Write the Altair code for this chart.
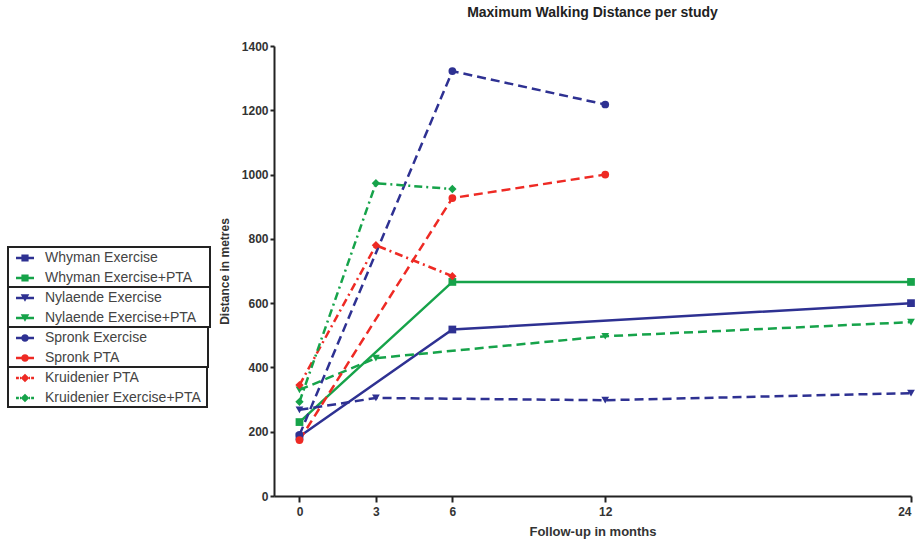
import altair as alt
import pandas as pd

# ---- data ----
months = [0, 3, 6, 12, 24]
whyman_exercise = [185, None, 518, None, 600]
whyman_exercise_pta = [230, None, 666, None, 666]
nylaende_exercise = [268, 305, None, 298, 320]
nylaende_exercise_pta = [330, 429, None, 497, 541]
spronk_exercise = [190, None, 1322, 1218, None]
spronk_pta = [174, None, 927, 1000, None]
kruidenier_pta = [345, 780, 684, None, None]
kruidenier_exercise_pta = [293, 973, 955, None, None]

x_ticks = [0, 3, 6, 12, 24]
y_ticks = [0, 200, 400, 600, 800, 1000, 1200, 1400]

BLUE = "#2e3192"
GREEN = "#16a34a"
RED = "#ee2a24"
FONT = "Liberation Sans"
NB = "\u00a0"
ZW = "\u200b"

# legend symbol paths (line stub + marker), unit coords
LINE = "M-1,-0.14H1V0.14H-1Z"
DASHLINE = "M-1,-0.14H-0.68V0.14H-1Z M-0.56,-0.14H-0.44V0.14H-0.56Z M0.44,-0.14H0.56V0.14H0.44Z M0.68,-0.14H1V0.14H0.68Z"
SQUARE = "M-0.4,-0.4H0.4V0.4H-0.4Z"
TRI = "M-0.48,-0.42L0.48,-0.42L0,0.42Z"
CIRC = "M-0.42,0A0.42,0.42,0,1,1,0.42,0A0.42,0.42,0,1,1,-0.42,0Z"
DIAM = "M0,-0.48L0.48,0L0,0.48L-0.48,0Z"

groups = [
    dict(names=["Whyman Exercise", "Whyman Exercise+PTA"],
         values=[whyman_exercise, whyman_exercise_pta],
         colors=[BLUE, GREEN], shape="square", size=60, dash=None,
         sym=LINE + " " + SQUARE, legend_y=201, pad=4),
    dict(names=["Nylaende Exercise", "Nylaende Exercise+PTA"],
         values=[nylaende_exercise, nylaende_exercise_pta],
         colors=[BLUE, GREEN], shape="triangle-down", size=60, dash=[9, 5],
         sym=LINE + " " + TRI, legend_y=241, pad=3),
    dict(names=["Spronk Exercise", "Spronk PTA"],
         values=[spronk_exercise, spronk_pta],
         colors=[BLUE, RED], shape="circle", size=60, dash=[9, 5],
         sym=LINE + " " + CIRC, legend_y=281, pad=15),
    dict(names=["Kruidenier PTA", "Kruidenier Exercise+PTA"],
         values=[kruidenier_pta, kruidenier_exercise_pta],
         colors=[RED, GREEN], shape="diamond", size=70, dash=[8, 4, 2, 4],
         sym=DASHLINE + " " + DIAM, legend_y=321, pad=1),
]

x_enc = alt.X(
    "month:Q",
    scale=alt.Scale(domain=[-1, 24], nice=False, zero=False),
    axis=alt.Axis(
        values=x_ticks, title="Follow-up in months", grid=False,
        domainColor="#222", domainWidth=2, tickColor="#222", tickWidth=2,
        tickSize=6, labelFont=FONT, labelFontSize=12, labelFontWeight="bold",
        labelColor="#333", labelPadding=4, titleFont=FONT, titleFontSize=13,
        titleFontWeight="bold", titleColor="#333", titlePadding=8,
    ),
)
y_enc = alt.Y(
    "value:Q",
    scale=alt.Scale(domain=[0, 1400], nice=False),
    axis=alt.Axis(
        values=y_ticks, format="d", title="Distance in metres", grid=False,
        domainColor="#222", domainWidth=2, tickColor="#222", tickWidth=2,
        tickSize=4, labelFont=FONT, labelFontSize=12, labelFontWeight="bold",
        labelColor="#333", labelPadding=2, titleFont=FONT, titleFontSize=12,
        titleFontWeight="bold", titleColor="#333", titlePadding=10,
    ),
)

layers = []
for g in groups:
    rows = []
    for name, vals in zip(g["names"], g["values"]):
        for m, v in zip(months, vals):
            if v is not None:
                rows.append({"series": name, "month": m, "value": v})
    df = pd.DataFrame(rows)
    scale = alt.Scale(domain=g["names"], range=g["colors"])
    legend = alt.Legend(
        orient="none", legendX=-266, legendY=g["legend_y"], title=None,
        symbolType=g["sym"], symbolSize=324, symbolStrokeWidth=0,
        symbolOpacity=1, padding=2, rowPadding=4, symbolOffset=6,
        labelOffset=11, labelFont=FONT, labelFontSize=14, labelColor="#444",
        labelLimit=400,
        labelExpr="datum.label + '" + NB * g["pad"] + ZW + "'",
        strokeColor="#222", fillColor="white",
    )
    line_kwargs = dict(strokeWidth=2.5)
    if g["dash"]:
        line_kwargs["strokeDash"] = g["dash"]
    line = alt.Chart(df).mark_line(**line_kwargs).encode(
        x=x_enc, y=y_enc,
        color=alt.Color("series:N", scale=scale, legend=None),
    )
    pts = alt.Chart(df).mark_point(
        filled=True, shape=g["shape"], size=g["size"], opacity=1
    ).encode(
        x=x_enc, y=y_enc,
        fill=alt.Fill("series:N", scale=scale, legend=legend),
    )
    layers.append(line)
    layers.append(pts)

chart = alt.layer(*layers).resolve_scale(
    color="independent", fill="independent"
).resolve_legend(
    fill="independent"
).properties(
    width=637,
    height=450,
    title=alt.TitleParams(
        "Maximum Walking Distance per study", font=FONT, fontSize=14,
        fontWeight="bold", color="#222", offset=20, anchor="middle",
    ),
    autosize=alt.AutoSizeParams(type="none"),
    padding={"left": 274, "top": 46, "right": 10, "bottom": 46},
    background="white",
).configure_view(stroke=None).configure_legend(strokeWidth=2)

chart.save("out.html", embed_options={"renderer": "svg", "actions": False})
